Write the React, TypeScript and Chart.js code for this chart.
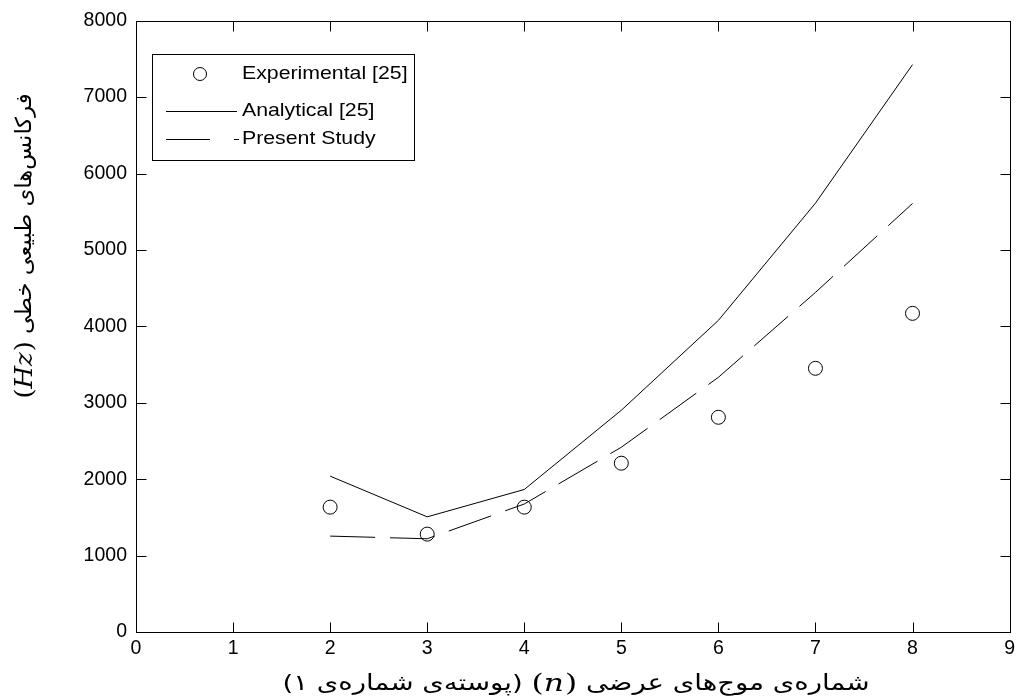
import React, { useEffect, useRef } from "react";
import { Chart, registerables } from "chart.js";
Chart.register(...registerables);

const waveNumbers = [2, 3, 4, 5, 6, 7, 8];
const experimental = [1634, 1281, 1634, 2209, 2810, 3451, 4170];
const analytical = [2040, 1507, 1865, 2902, 4078, 5612, 7425];
const presentStudy = [1255, 1220, 1675, 2418, 3333, 4444, 5608];
const xTickValues = [0, 1, 2, 3, 4, 5, 6, 7, 8, 9];
const yTickValues = [0, 1000, 2000, 3000, 4000, 5000, 6000, 7000, 8000];
const seriesLabels = ["Experimental [25]", "Analytical [25]", "Present Study"];
const xTitleMain = "شماره‌ی موج‌های عرضی";
const xTitleVar = "n";
const xTitleNote = "(پوسته‌ی شماره‌ی ۱)";
const yTitleMain = "فرکانس‌های طبیعی خطی";
const yTitleUnit = "Hz";

const PERSIAN_FONT = "22px 'DejaVu Sans'";
const MATH_FONT = "25px 'DejaVu Serif'";
const MATH_ITALIC = "italic 25px 'DejaVu Serif'";
const TICK_FONT_FAMILY = "'Liberation Sans', Arial, sans-serif";

function drawMath(ctx: CanvasRenderingContext2D, x: number, v: string, measureOnly = false) {
  ctx.font = MATH_FONT;
  const w1 = ctx.measureText("(").width;
  const w3 = ctx.measureText(")").width;
  ctx.font = MATH_ITALIC;
  const w2 = ctx.measureText(v).width;
  const total = w1 + w2 + w3 + 1;
  if (measureOnly) return total;
  ctx.textAlign = "left";
  ctx.direction = "ltr";
  ctx.font = MATH_FONT;
  ctx.fillText("(", x, 0);
  ctx.font = MATH_ITALIC;
  ctx.fillText(v, x + w1, 0);
  ctx.font = MATH_FONT;
  ctx.fillText(")", x + w1 + w2 + 1, 0);
  return total;
}

// draws [math, persian...] pieces left to right, stretched to a target width
function drawTitle(ctx: CanvasRenderingContext2D, pieces: { text: string; math: boolean }[], targetWidth: number) {
  const gap = 7;
  const widths = pieces.map((p) => {
    if (p.math) return drawMath(ctx, 0, p.text, true) as number;
    ctx.font = PERSIAN_FONT;
    ctx.direction = "rtl";
    return ctx.measureText(p.text).width;
  });
  const total = widths.reduce((a, b) => a + b, 0) + gap * (pieces.length - 1);
  const sx = targetWidth / total;
  ctx.scale(sx, 1);
  let x = -total / 2;
  pieces.forEach((p, i) => {
    if (p.math) {
      drawMath(ctx, x, p.text);
    } else {
      ctx.font = PERSIAN_FONT;
      ctx.direction = "rtl";
      ctx.textAlign = "left";
      ctx.fillText(p.text, x, 0);
    }
    x += widths[i] + gap;
  });
}

const framePlugin = {
  id: "framePlugin",
  afterDraw(chart: any) {
    const ctx: CanvasRenderingContext2D = chart.ctx;
    const { left, right, top, bottom } = chart.chartArea;
    const xs = chart.scales.x;
    const ys = chart.scales.y;
    ctx.save();
    ctx.strokeStyle = "#000";
    ctx.lineWidth = 1;
    ctx.setLineDash([]);
    const L = Math.round(left) + 0.5;
    const R = Math.round(right) + 0.5;
    const T = Math.round(top) + 0.5;
    const B = Math.round(bottom) + 0.5;
    ctx.strokeRect(L, T, R - L, B - T);
    ctx.beginPath();
    xTickValues.forEach((v) => {
      const px = Math.round(xs.getPixelForValue(v)) + 0.5;
      ctx.moveTo(px, B);
      ctx.lineTo(px, B - 10);
      ctx.moveTo(px, T);
      ctx.lineTo(px, T + 10);
    });
    yTickValues.forEach((v) => {
      const py = Math.round(ys.getPixelForValue(v)) + 0.5;
      ctx.moveTo(L, py);
      ctx.lineTo(L + 10, py);
      ctx.moveTo(R, py);
      ctx.lineTo(R - 10, py);
    });
    ctx.stroke();

    // legend
    const lx = 152.5, ly = 54.5, lw = 262, lh = 106;
    ctx.fillStyle = "#fff";
    ctx.fillRect(lx, ly, lw, lh);
    ctx.strokeRect(lx, ly, lw, lh);
    ctx.fillStyle = "#000";
    const rows = [74, 111, 139];
    ctx.beginPath();
    ctx.arc(200, rows[0], 6.5, 0, Math.PI * 2);
    ctx.stroke();
    ctx.beginPath();
    ctx.moveTo(166, rows[1] + 0.5);
    ctx.lineTo(237, rows[1] + 0.5);
    ctx.stroke();
    ctx.beginPath();
    ctx.moveTo(166, rows[2] + 0.5);
    ctx.lineTo(210, rows[2] + 0.5);
    ctx.moveTo(234, rows[2] + 0.5);
    ctx.lineTo(239, rows[2] + 0.5);
    ctx.stroke();
    ctx.font = "18.5px " + TICK_FONT_FAMILY;
    ctx.textBaseline = "middle";
    ctx.textAlign = "left";
    ctx.direction = "ltr";
    seriesLabels.forEach((lab, i) => {
      ctx.save();
      ctx.translate(242, rows[i]);
      ctx.scale(1.15, 1);
      ctx.fillText(lab, 0, 0);
      ctx.restore();
    });

    // x title
    ctx.save();
    ctx.translate(576, 684);
    ctx.textBaseline = "middle";
    drawTitle(ctx, [
      { text: xTitleNote, math: false },
      { text: xTitleVar, math: true },
      { text: xTitleMain, math: false },
    ], 587);
    ctx.restore();

    // y title
    ctx.save();
    ctx.translate(25, 246);
    ctx.rotate(-Math.PI / 2);
    ctx.textBaseline = "middle";
    drawTitle(ctx, [
      { text: yTitleUnit, math: true },
      { text: yTitleMain, math: false },
    ], 305);
    ctx.restore();

    ctx.restore();
  },
};

export default function App() {
  const ref = useRef<HTMLCanvasElement | null>(null);
  useEffect(() => {
    document.body.style.margin = "0";
    const canvas = ref.current;
    if (!canvas) return;
    const toPts = (arr: number[]) => waveNumbers.map((x, i) => ({ x, y: arr[i] }));
    const chart = new Chart(canvas, {
      type: "scatter",
      data: {
        datasets: [
          {
            label: seriesLabels[1],
            data: toPts(analytical),
            showLine: true,
            borderColor: "#000",
            borderWidth: 1,
            pointRadius: 0,
            tension: 0,
            fill: false,
          },
          {
            label: seriesLabels[2],
            data: toPts(presentStudy),
            showLine: true,
            borderColor: "#000",
            borderWidth: 1,
            borderDash: [45, 15],
            pointRadius: 0,
            tension: 0,
            fill: false,
          },
          {
            label: seriesLabels[0],
            data: toPts(experimental),
            showLine: false,
            borderColor: "#000",
            backgroundColor: "rgba(0,0,0,0)",
            borderWidth: 1,
            pointRadius: 7,
            pointStyle: "circle",
          },
        ],
      },
      options: {
        responsive: false,
        animation: false,
        events: [],
        layout: { padding: { left: 66, right: 9, top: 20, bottom: 36 } },
        plugins: { legend: { display: false }, tooltip: { enabled: false }, title: { display: false } },
        scales: {
          x: {
            type: "linear",
            min: 0,
            max: 9,
            afterFit: (s: any) => { s.height = 30; },
            afterBuildTicks: (s: any) => { s.ticks = xTickValues.map((v) => ({ value: v })); },
            grid: { display: false, drawTicks: false },
            border: { display: false },
            ticks: { color: "#000", padding: 5, font: { family: TICK_FONT_FAMILY, size: 19.5 }, maxRotation: 0 },
          },
          y: {
            type: "linear",
            min: 0,
            max: 8000,
            afterFit: (s: any) => { s.width = 70; },
            afterBuildTicks: (s: any) => { s.ticks = yTickValues.map((v) => ({ value: v })); },
            grid: { display: false, drawTicks: false },
            border: { display: false },
            ticks: { color: "#000", padding: 9, font: { family: TICK_FONT_FAMILY, size: 19.5 }, callback: (v: any) => String(v) },
          },
        },
      },
      plugins: [framePlugin],
    });
    return () => chart.destroy();
  }, []);
  return (
    <div style={{ width: 1020, height: 698, background: "#fff" }}>
      <canvas ref={ref} width={1020} height={698} style={{ display: "block" }} />
    </div>
  );
}
